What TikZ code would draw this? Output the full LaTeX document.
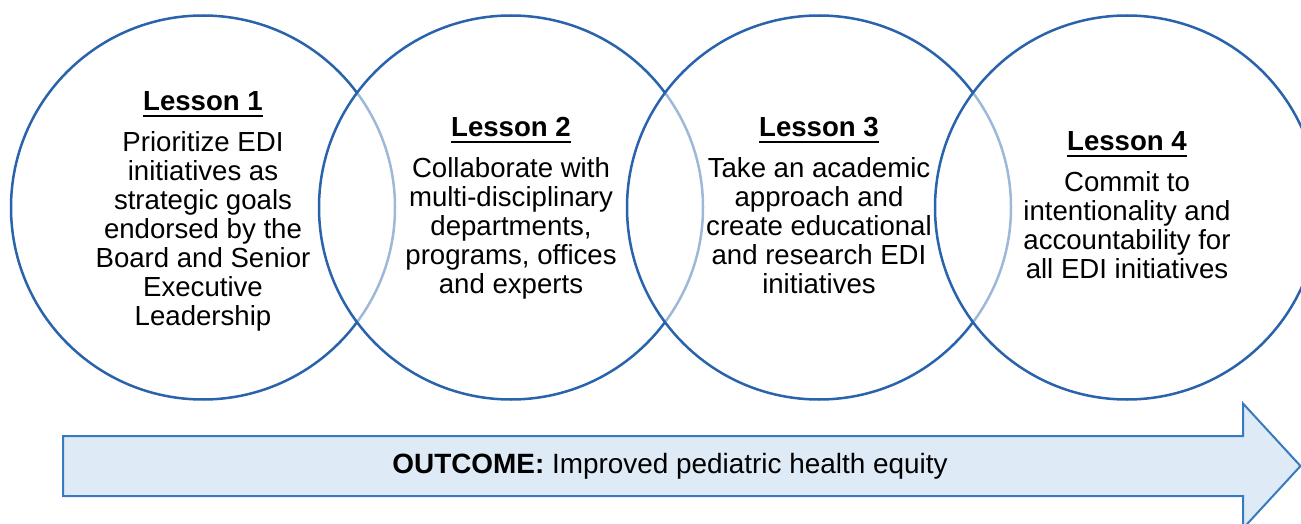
\documentclass[tikz,border=0pt]{standalone}
\usepackage{fontspec}
\setmainfont{Liberation Sans}
\usepackage{xcolor}
\usepackage{tikz}
\usetikzlibrary{positioning}

\definecolor{ringblue}{RGB}{40,99,172}
\definecolor{arrowline}{RGB}{55,122,192}
\definecolor{arrowfill}{RGB}{222,234,246}

\newsavebox{\headbox}
\newcommand{\lessonhead}[1]{\sbox{\headbox}{\textbf{#1}}%
  \rlap{\usebox{\headbox}}\rule[-6.7pt]{\wd\headbox}{2.2pt}}

\begin{document}
\begin{tikzpicture}[
  x=1pt, y=1pt,
  ring/.style={circle, draw=ringblue, line width=2.5pt, fill=white, fill opacity=0.55,
               minimum size=384pt, inner sep=0pt},
  lesson/.style={align=center, inner sep=0pt, font=\fontsize{27.6}{29}\selectfont},
  outarrow/.style={draw=arrowline, line width=2pt, fill=arrowfill},
  node distance=308pt, on grid
]
  \useasboundingbox (0,0) rectangle (1301,-524);

  \node[ring] (c1) at (203,-207.5) {};
  \node[ring, right=of c1] (c2) {};
  \node[ring, right=of c2] (c3) {};
  \node[ring, right=of c3] (c4) {};

  \node[lesson] (l1) at ([yshift=-3.5pt]c1) {\lessonhead{Lesson 1}\\[12pt]
    Prioritize EDI\\ initiatives as\\ strategic goals\\ endorsed by the\\
    Board and Senior\\ Executive\\ Leadership};
  \node[lesson] (l2) at ([yshift=-0.5pt]c2) {\lessonhead{Lesson 2}\\[12pt]
    Collaborate with\\ multi-disciplinary\\ departments,\\ programs, offices\\
    and experts};
  \node[lesson] (l3) at ([yshift=2.5pt]c3) {\lessonhead{Lesson 3}\\[12pt]
    Take an academic\\ approach and\\ create educational\\ and research EDI\\
    initiatives};
  \node[lesson] (l4) at ([yshift=2.5pt]c4) {\lessonhead{Lesson 4}\\[12pt]
    Commit to\\ intentionality and\\ accountability for\\ all EDI initiatives};

  \draw[outarrow] (63,-436) -- (1243,-436) -- (1243,-403.5) -- (1300.5,-466)
    -- (1243,-528.5) -- (1243,-496) -- (63,-496) -- cycle;
  \node[lesson, anchor=base, font=\fontsize{27.9}{29}\selectfont] (outcome) at (670,-473)
    {\textbf{OUTCOME:} Improved pediatric health equity};
\end{tikzpicture}
\end{document}
